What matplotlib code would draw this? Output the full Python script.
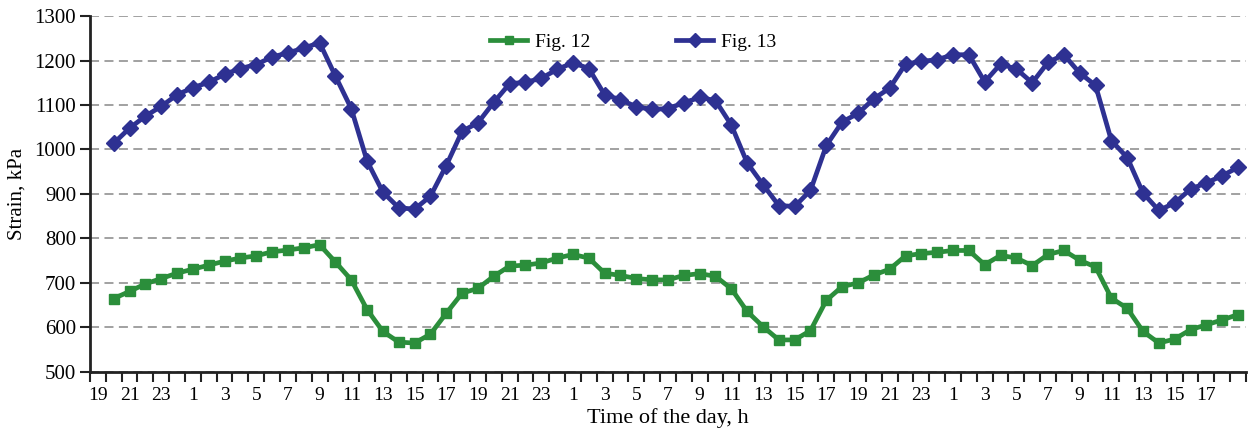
import matplotlib
matplotlib.use("Agg")
import matplotlib.pyplot as plt
import numpy as np

# hour labels for the 73 category slots (slot 0 = 19 h, no data)
hours = [(19 + k) % 24 for k in range(73)]
tick_labels = [str(h) for h in hours[0:71:2]]

fig12 = [665, 681, 698, 710, 722, 731, 740, 749, 756, 761, 770, 774,
         779, 786, 747, 707, 640, 591, 567, 565, 585, 632, 677, 688,
         715, 738, 740, 745, 756, 764, 756, 722, 717, 710, 707, 707,
         717, 721, 715, 687, 636, 602, 572, 572, 593, 661, 692, 700,
         718, 731, 761, 766, 769, 773, 773, 741, 762, 756, 739, 764,
         773, 751, 736, 666, 643, 591, 565, 574, 595, 606, 617, 629]

fig13 = [1014, 1048, 1075, 1097, 1123, 1139, 1151, 1169, 1182, 1191, 1208, 1217,
         1228, 1240, 1165, 1092, 974, 904, 869, 866, 895, 964, 1041, 1060,
         1106, 1148, 1151, 1160, 1180, 1195, 1182, 1123, 1112, 1096, 1090, 1092,
         1105, 1117, 1110, 1055, 970, 921, 874, 872, 908, 1009, 1062, 1081,
         1114, 1138, 1192, 1198, 1202, 1213, 1213, 1152, 1192, 1181, 1150, 1196,
         1213, 1172, 1144, 1020, 982, 902, 863, 880, 911, 925, 941, 960]

x = np.arange(1, 1 + len(fig12))

plt.rcParams['font.family'] = ['Liberation Serif', 'DejaVu Serif']

fig = plt.figure(figsize=(12.53, 4.33), dpi=100)
ax = fig.add_axes([0.0718, 0.141, 0.9226, 0.822])

green = '#2B8E3B'
blue = '#2E3192'

ax.plot(x, fig12, color=green, lw=3.4, marker='s', markersize=6.5,
        label='Fig. 12', zorder=3)
ax.plot(x, fig13, color=blue, lw=3.4, marker='D', markersize=8,
        label='Fig. 13', zorder=3)

ax.set_xlim(-0.5, 72.5)
ax.set_ylim(500, 1300)
ax.set_yticks(np.arange(500, 1301, 100))
ax.yaxis.grid(True, linestyle=(0, (5, 3)), color='#9a9a9a', lw=1.3)
ax.set_axisbelow(True)

ax.set_xticks(np.arange(0, 71, 2))
ax.set_xticklabels(tick_labels)
ax.set_xticks(np.arange(-0.5, 73, 1), minor=True)
ax.tick_params(axis='x', which='major', length=0, pad=11, labelsize=14)
ax.tick_params(axis='x', which='minor', length=7, width=1.5, direction='out', color='#222222')
ax.tick_params(axis='y', which='major', length=7, width=1.5, labelsize=15, pad=3, color='#222222')

for s in ['top', 'right']:
    ax.spines[s].set_visible(False)
for s in ['left', 'bottom']:
    ax.spines[s].set_linewidth(2)
    ax.spines[s].set_color('#222222')

ax.set_ylabel('Strain, kPa', fontsize=15, labelpad=6)
ax.set_xlabel('Time of the day, h', fontsize=16, labelpad=3)

ax.legend(loc='upper center', bbox_to_anchor=(0.47, 1.0), ncol=2, frameon=False,
          fontsize=14, handlelength=1.9, handletextpad=0.4, columnspacing=4.4,
          markerscale=0.9)

fig.savefig('out.png', dpi=100)
